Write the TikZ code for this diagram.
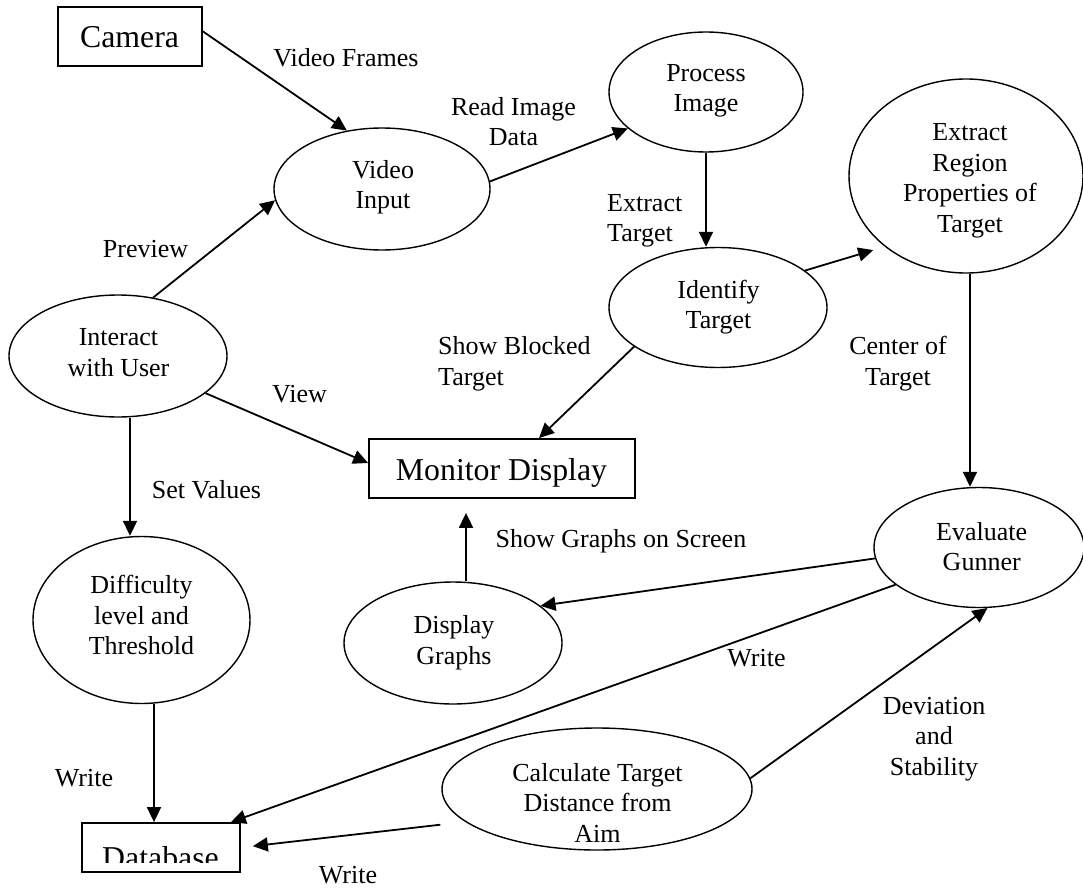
\documentclass[tikz,border=0pt]{standalone}
\usepackage{fontspec}
\setmainfont{Liberation Serif}
\usetikzlibrary{arrows.meta,shapes.geometric,calc}
\newcommand\lblfont{\fontsize{26}{30.5}\selectfont}
\newcommand\boxfont{\fontsize{31.8}{36}\selectfont}
\tikzset{
  ell/.style={ellipse, draw, line width=1.4pt, inner sep=0pt},
  box/.style={rectangle, draw, line width=1.8pt, inner sep=0pt},
  txt/.style={font=\lblfont, align=center, inner sep=0pt},
  boxtxt/.style={font=\boxfont, inner sep=0pt},
  flow/.style={line width=1.8pt, -{Triangle[length=15pt,width=14pt]}},
}
\begin{document}
\begin{tikzpicture}[x=1pt,y=-1pt]
\path[fill=white] (0,0) rectangle (1083,888);
\useasboundingbox (0,0) rectangle (1083,888);

% external entities
\node[box, minimum width=144pt, minimum height=59pt] (cam) at (130,36.5) {};
\node[box, minimum width=266pt, minimum height=59pt] (mon) at (502,468.5) {};
\node[box, minimum width=158pt, minimum height=49pt] (db) at (161,847.5) {};

% processes
\node[ell, minimum width=216pt, minimum height=122pt] (vin) at (382,189) {};
\node[ell, minimum width=194pt, minimum height=120pt] (proc) at (706,92) {};
\node[ell, minimum width=234pt, minimum height=194pt] (ext) at (966,176) {};
\node[ell, minimum width=218pt, minimum height=120pt] (idt) at (718,307.5) {};
\node[ell, minimum width=218pt, minimum height=122pt] (usr) at (118,356) {};
\node[ell, minimum width=217pt, minimum height=167pt] (diff) at (141.5,620) {};
\node[ell, minimum width=218pt, minimum height=122pt] (dg) at (453,643) {};
\node[ell, minimum width=310pt, minimum height=122pt] (calc) at (597,789) {};
\node[ell, minimum width=210pt, minimum height=120pt] (eva) at (979,547.5) {};

% entity and process names
\node[boxtxt] (cam-t) at (129.5,37.3) {Camera};
\node[boxtxt] (mon-t) at (501.5,472.5) {Monitor Display};
\begin{scope}
  % the name sits low in its box and its foot is cut off
  \clip (82,823) rectangle (240,862);
  \node[boxtxt] (db-t) at (160.5,858) {Database};
\end{scope}
\node[txt] (vin-t) at (383,187) {Video\\Input};
\node[txt] (proc-t) at (706,91) {Process\\Image};
\node[txt] (ext-t) at (970,181) {Extract\\Region\\Properties of\\Target};
\node[txt] (idt-t) at (718.5,307) {Identify\\Target};
\node[txt] (usr-t) at (118.5,352.7) {Interact\\with User};
\node[txt] (diff-t) at (141.5,615) {Difficulty\\level and\\Threshold};
\node[txt] (dg-t) at (454,642.8) {Display\\Graphs};
\node[txt] (calc-t) at (597.5,802.6) {Calculate Target\\Distance from\\Aim};
\node[txt] (eva-t) at (981.7,546.4) {Evaluate\\Gunner};

% data flows
\draw[flow] (cam.4) -- (vin.121);
\draw[flow] (usr.59) -- (vin.186);
\draw[flow] (vin.4) -- (proc.205);
\draw[flow] (proc.south) -- (proc.south |- idt.north);
\draw[flow, shorten >=12pt] (idt.23) -- (ext.221);
\draw[flow] (idt.205) -- ([xshift=37pt]mon.north);
\draw[flow] (usr.337) -- ([yshift=5.5pt]mon.west);
\draw[flow] ([xshift=12pt]usr.south) -- ([xshift=12pt]usr.south |- diff.north);
\draw[flow] ([xshift=4pt]ext.south) -- ([xshift=4pt]ext.south |- eva.north);
\draw[flow, shorten >=14pt] ([xshift=13pt]dg.north) -- ([xshift=13pt]dg.north |- mon.south);
\draw[flow] (eva.186.8) -- (dg.23.6);
\draw[flow] (eva.204) -- ([xshift=-10pt]db.north east);
\draw[flow, shorten <=25pt, shorten >=12pt] (calc.194.5) -- (db.east);
\draw[flow] (calc.4.4) -- (eva.278);
\draw[flow] ([xshift=12.5pt]diff.south) -- ([xshift=12.5pt]diff.south |- db.north);

% flow labels
\node[txt] (l-frames) at (346,58.1) {Video Frames};
\node[txt] (l-read) at (513.5,121.8) {Read Image\\Data};
\node[txt, align=left, anchor=west] (l-extract) at (607,221) {Extract\\Target};
\node[txt] (l-preview) at (145.5,249.5) {Preview};
\node[txt, align=left, anchor=west] (l-blocked) at (438,364) {Show Blocked\\Target};
\node[txt] (l-view) at (299.5,394.2) {View};
\node[txt] (l-set) at (206.5,490) {Set Values};
\node[txt] (l-center) at (898,363.4) {Center of\\Target};
\node[txt] (l-graphs) at (621,541) {Show Graphs on Screen};
\node[txt] (l-write1) at (756.5,658) {Write};
\node[txt] (l-dev) at (934,739) {Deviation\\and\\Stability};
\node[txt] (l-write2) at (84,778) {Write};
\node[txt] (l-write3) at (348,875) {Write};
\end{tikzpicture}
\end{document}
